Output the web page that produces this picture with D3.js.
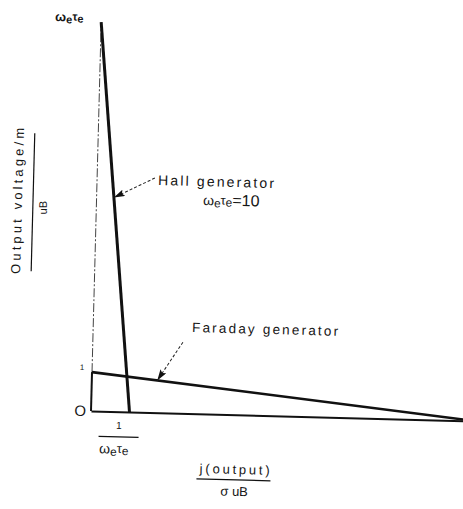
<!DOCTYPE html>
<meta charset="utf-8">
<style>
  body { margin: 0; background: #fff; }
  svg text { font-family: "Liberation Sans", Arial, sans-serif; fill: #151515; }
</style>
<div id="chart"></div>
<script src="https://d3js.org/d3.v7.min.js"></script>
<script>

// curves: output voltage vs current (normalised)
var hallX = [0, 0.1]
var hallY = [10, 0]
var faradayX = [0, 1]
var faradayY = [1, 0]

// leader arrows: start point and tip, in data units
var hallArrow = [[0.150, 6.03], [0.045, 5.5]]
var faradayArrow = [[0.234, 1.83], [0.17, 0.83]]

var W = 463, H = 509
var tilt = 1.5   // the scanned figure sits a little skewed

var svg = d3.select("#chart").append("svg")
  .attr("width", W)
  .attr("height", H)

var x = d3.scaleLinear().domain([0, 1]).range([91, 476])
var y = d3.scaleLinear().domain([0, 10]).range([411, 22])

svg.append("defs").append("marker")
  .attr("id", "head")
  .attr("markerUnits", "userSpaceOnUse")
  .attr("markerWidth", 12).attr("markerHeight", 8)
  .attr("refX", 11).attr("refY", 3.5)
  .attr("orient", "auto")
  .append("path")
    .attr("d", "M0,0 L11,3.5 L0,7 L2,3.5 z")
    .attr("fill", "#111")

var plot = svg.append("g")
  .attr("transform", "rotate(" + tilt + "," + x(0) + "," + y(0) + ")")

// bottom axis, no ticks
plot.append("g")
  .attr("transform", "translate(0," + y(0) + ")")
  .call(d3.axisBottom(x).tickValues([]).tickSizeOuter(0))
  .select(".domain")
    .attr("stroke", "#111")
    .attr("stroke-width", 2)

// left axis: solid up to 1, thin broken line above
plot.append("line")
  .attr("x1", x(0)).attr("x2", x(0))
  .attr("y1", y(0)).attr("y2", y(1))
  .attr("stroke", "#111").attr("stroke-width", 2)
plot.append("line")
  .attr("x1", x(0)).attr("x2", x(0))
  .attr("y1", y(1)).attr("y2", y(10))
  .attr("stroke", "#444").attr("stroke-width", 1)
  .attr("stroke-dasharray", "9,2,2,2")

var line = d3.line()
  .x(function (d) { return x(d[0]) })
  .y(function (d) { return y(d[1]) })

plot.append("path")
  .datum(d3.zip(faradayX, faradayY))
  .attr("d", line)
  .attr("fill", "none").attr("stroke", "#111").attr("stroke-width", 2.6)

plot.append("path")
  .datum(d3.zip(hallX, hallY))
  .attr("d", line)
  .attr("fill", "none").attr("stroke", "#111").attr("stroke-width", 3)

// leader arrows
plot.selectAll(".leader")
  .data([hallArrow, faradayArrow])
  .enter().append("path")
    .attr("class", "leader")
    .attr("d", line)
    .attr("fill", "none")
    .attr("stroke", "#222").attr("stroke-width", 1)
    .attr("stroke-dasharray", "3,2")
    .attr("marker-end", "url(#head)")

// text helpers
function label(px, py, rot) {
  return svg.append("g")
    .attr("transform", "translate(" + px + "," + py + ") rotate(" + (tilt + (rot || 0)) + ")")
}
function omegaTau(t, size) {
  t.append("tspan").text("ω").attr("font-size", size)
  t.append("tspan").text("e").attr("font-size", size * 0.85).attr("dy", 2)
  t.append("tspan").text("τ").attr("font-size", size * 0.9).attr("dy", -3)
  t.append("tspan").text("e").attr("font-size", size * 0.85).attr("dy", 2)
}

// top of y axis
omegaTau(label(55, 21).append("text").attr("font-weight", "bold"), 13)

// y tick labels
label(82, 370).append("text").attr("text-anchor", "middle").attr("font-size", 8).text("1")
label(80, 416).append("text").attr("text-anchor", "middle").attr("font-size", 15).text("O")

// x tick 1/(we te)
var xt = label(130, 0)
xt.append("text").attr("y", 429).attr("text-anchor", "middle").attr("font-size", 10).text("1")
xt.append("line").attr("x1", -20).attr("x2", 20).attr("y1", 437).attr("y2", 437)
  .attr("stroke", "#111").attr("stroke-width", 1.3)
var xt2 = xt.append("text").attr("x", -19).attr("y", 454)
omegaTau(xt2, 14)

// y title
var yt = label(22, 201, -90)
yt.append("text").attr("text-anchor", "middle").attr("font-size", 13)
  .attr("textLength", 146).attr("lengthAdjust", "spacing")
  .text("Output voltage/m")
yt.append("line").attr("x1", -70).attr("x2", 68).attr("y1", 11).attr("y2", 11)
  .attr("stroke", "#111").attr("stroke-width", 1.2)
yt.append("text").attr("x", -6).attr("y", 25).attr("text-anchor", "middle").attr("font-size", 11).text("uB")

// x title
var xtl = label(247, 0)
xtl.append("text").attr("y", 474).attr("text-anchor", "middle").attr("font-size", 13)
  .attr("textLength", 70).attr("lengthAdjust", "spacing").text("j(output)")
xtl.append("line").attr("x1", -38).attr("x2", 36).attr("y1", 480).attr("y2", 480)
  .attr("stroke", "#111").attr("stroke-width", 1.2)
xtl.append("text").attr("y", 496).attr("text-anchor", "middle").attr("font-size", 13).text("σ uB")

// curve labels
label(158, 185).append("text").attr("font-size", 14)
  .attr("textLength", 116).attr("lengthAdjust", "spacing").text("Hall generator")
var ht = label(203, 205).append("text")
omegaTau(ht, 14)
ht.append("tspan").text("=10").attr("font-size", 16).attr("dy", -1)

label(192, 332).append("text").attr("font-size", 13.5)
  .attr("textLength", 146).attr("lengthAdjust", "spacing").text("Faraday generator")

</script>
